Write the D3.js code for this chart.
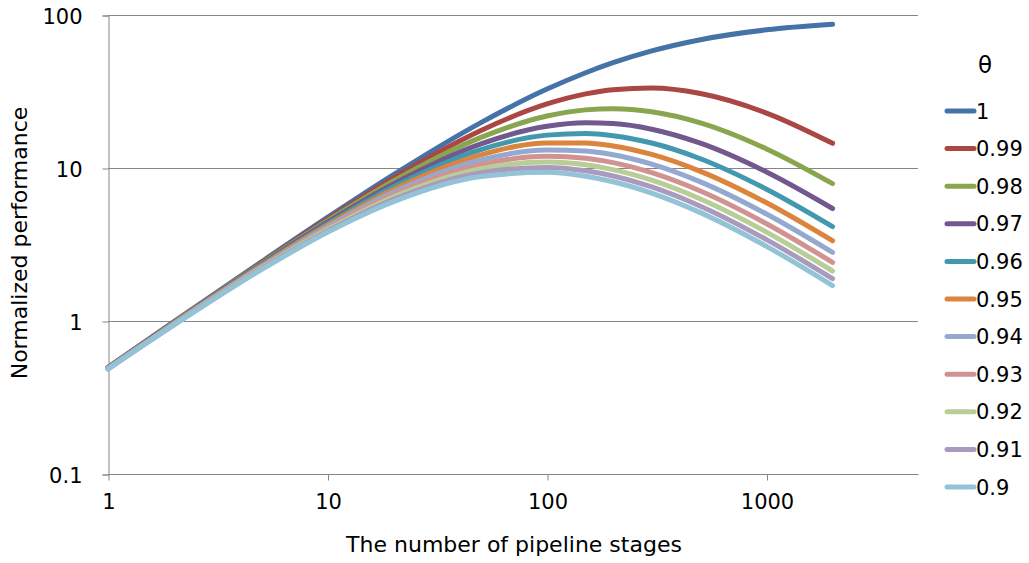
<!DOCTYPE html>
<html>
<head>
<meta charset="utf-8">
<script src="https://cdn.jsdelivr.net/npm/d3@7"></script>
<style>
  body { margin: 0; background: #fff; }
  svg text { font-family: "DejaVu Sans", Verdana, sans-serif; fill: #000; }
</style>
</head>
<body>
<svg id="chart" width="1029" height="563"></svg>
<script>
// pipeline stages (x) and normalized performance per theta
var stages = [1, 2, 5, 10, 20, 50, 100, 150, 200, 300, 500, 1000, 2000];
var thetas = ["1", "0.99", "0.98", "0.97", "0.96", "0.95", "0.94", "0.93", "0.92", "0.91", "0.9"];

var perf100 = [0.497, 0.990, 2.436, 4.751, 9.050, 19.80, 32.79, 41.96, 48.78, 58.25, 68.97, 80.00, 86.96];
var perf099 = [0.496, 0.985, 2.406, 4.635, 8.619, 17.60, 26.23, 30.52, 32.52, 33.29, 30.65, 22.86, 14.49];
var perf098 = [0.495, 0.980, 2.377, 4.525, 8.227, 15.84, 21.86, 23.98, 24.39, 23.30, 19.71, 13.33, 7.905];
var perf097 = [0.494, 0.975, 2.348, 4.420, 7.870, 14.40, 18.74, 19.75, 19.51, 17.92, 14.52, 9.412, 5.435];
var perf096 = [0.493, 0.970, 2.320, 4.319, 7.542, 13.20, 16.40, 16.78, 16.26, 14.56, 11.50, 7.273, 4.141];
var perf095 = [0.491, 0.966, 2.293, 4.223, 7.240, 12.18, 14.57, 14.59, 13.94, 12.26, 9.513, 5.926, 3.345];
var perf094 = [0.490, 0.961, 2.266, 4.131, 6.962, 11.31, 13.12, 12.91, 12.20, 10.59, 8.114, 5.000, 2.805];
var perf093 = [0.489, 0.956, 2.240, 4.043, 6.704, 10.56, 11.92, 11.58, 10.84, 9.320, 7.074, 4.324, 2.416];
var perf092 = [0.488, 0.952, 2.215, 3.959, 6.464, 9.900, 10.93, 10.49, 9.756, 8.321, 6.270, 3.810, 2.121];
var perf091 = [0.487, 0.947, 2.190, 3.878, 6.241, 9.318, 10.09, 9.591, 8.869, 7.516, 5.630, 3.404, 1.890];
var perf090 = [0.485, 0.943, 2.165, 3.801, 6.033, 8.800, 9.369, 8.834, 8.130, 6.853, 5.109, 3.077, 1.705];

var allPerf = [perf100, perf099, perf098, perf097, perf096, perf095, perf094, perf093, perf092, perf091, perf090];
var colors = ["#4572A7", "#AA4643", "#89A54E", "#71588F", "#4198AF", "#DB843D",
              "#93A9CF", "#D19392", "#B9CD96", "#A99BBD", "#92C3D6"];

var xTicks = [1, 10, 100, 1000];
var yTicks = [0.1, 1, 10, 100];
var xMax = 4900;

var svg = d3.select("#chart");
var plotLeft = 108, plotRight = 918, plotTop = 15, plotBottom = 474;

var x = d3.scaleLog().domain([1, xMax]).range([plotLeft, plotRight]);
var y = d3.scaleLog().domain([0.1, 100]).range([plotBottom, plotTop]);

// horizontal gridlines
svg.append("g").selectAll("line")
  .data(yTicks.filter(d => d > 0.1))
  .enter().append("line")
  .attr("x1", plotLeft).attr("x2", plotRight)
  .attr("y1", d => y(d) + 0.5).attr("y2", d => y(d) + 0.5)
  .attr("stroke", "#868686").attr("stroke-width", 1);

// y axis
var yAxis = svg.append("g")
  .attr("transform", "translate(" + (plotLeft + 0.5) + ",0.5)")
  .call(d3.axisLeft(y).tickValues(yTicks).tickFormat(d3.format("~g")).tickSize(6).tickPadding(20));
yAxis.select(".domain").attr("stroke", "#868686");
yAxis.selectAll(".tick line").attr("stroke", "#868686");
yAxis.selectAll("text").attr("font-size", "21px").attr("dy", "0.36em");

// x axis
var xAxis = svg.append("g")
  .attr("transform", "translate(0.5," + (plotBottom + 0.5) + ")")
  .call(d3.axisBottom(x).tickValues(xTicks).tickFormat(d3.format("~g")).tickSize(6).tickPadding(14));
xAxis.select(".domain").attr("stroke", "#868686").attr("d", "M" + plotLeft + ",0H" + plotRight);
xAxis.selectAll(".tick line").attr("stroke", "#868686");
xAxis.selectAll("text").attr("font-size", "21px");

// axis titles
svg.append("text")
  .attr("x", 514).attr("y", 552)
  .attr("text-anchor", "middle").attr("font-size", "22px")
  .text("The number of pipeline stages");

svg.append("text")
  .attr("transform", "translate(27,243) rotate(-90)")
  .attr("text-anchor", "middle").attr("font-size", "22px")
  .text("Normalized performance");

// series lines
var line = d3.line()
  .x(d => x(d[0]))
  .y(d => y(d[1]))
  .curve(d3.curveMonotoneX);

allPerf.forEach(function(vals, i) {
  svg.append("path")
    .datum(stages.map((s, j) => [s, vals[j]]))
    .attr("fill", "none")
    .attr("stroke", colors[i])
    .attr("stroke-width", 5)
    .attr("stroke-linecap", "round")
    .attr("stroke-linejoin", "round")
    .attr("d", line);
});

// legend
var legend = svg.append("g");
legend.append("text")
  .attr("x", 985).attr("y", 73)
  .attr("text-anchor", "middle").attr("font-size", "23px")
  .text("θ");

var item = legend.selectAll(".item")
  .data(thetas)
  .enter().append("g")
  .attr("class", "item")
  .attr("transform", (d, i) => "translate(0," + (111 + i * 37.6) + ")");

item.append("line")
  .attr("x1", 947).attr("x2", 974)
  .attr("stroke", (d, i) => colors[i])
  .attr("stroke-width", 5)
  .attr("stroke-linecap", "round");

item.append("text")
  .attr("x", 976).attr("y", 0).attr("dy", "0.36em")
  .attr("font-size", "21px")
  .text(d => d);
</script>
</body>
</html>
